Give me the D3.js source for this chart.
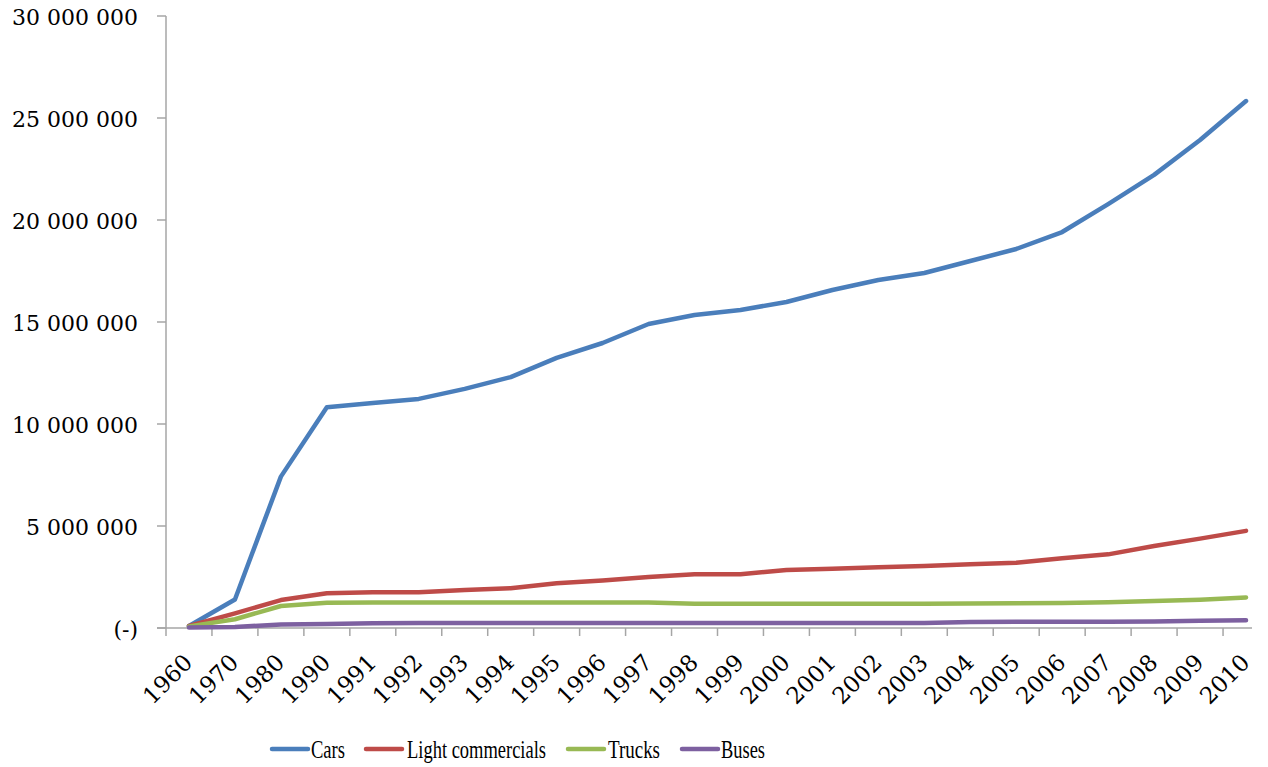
<!DOCTYPE html>
<html>
<head>
<meta charset="utf-8">
<script src="https://cdn.jsdelivr.net/npm/d3@7"></script>
<style>
  html, body { margin: 0; padding: 0; background: #fff; }
  svg text { font-family: "DejaVu Serif", "Liberation Serif", serif; fill: #000; }
  svg text.legend-label { font-family: "Liberation Serif", "DejaVu Serif", serif; }
</style>
</head>
<body>
<svg id="chart" width="1268" height="767"></svg>
<script>
// Vehicle fleet by type
const years = ["1960","1970","1980","1990","1991","1992","1993","1994","1995","1996","1997","1998",
               "1999","2000","2001","2002","2003","2004","2005","2006","2007","2008","2009","2010"];

const cars = [100000, 1400000, 7420000, 10820000, 11030000, 11230000, 11720000, 12300000, 13240000,
              13970000, 14900000, 15340000, 15590000, 15980000, 16570000, 17060000, 17400000,
              17990000, 18580000, 19410000, 20780000, 22210000, 23920000, 25830000];
const lightCommercials = [100000, 720000, 1370000, 1700000, 1750000, 1750000, 1860000, 1950000, 2190000,
              2330000, 2500000, 2640000, 2640000, 2840000, 2910000, 2980000, 3040000,
              3120000, 3200000, 3420000, 3610000, 4020000, 4380000, 4760000];
const trucks = [80000, 430000, 1080000, 1240000, 1250000, 1250000, 1250000, 1250000, 1250000,
              1250000, 1250000, 1190000, 1190000, 1190000, 1190000, 1190000, 1190000,
              1200000, 1210000, 1230000, 1260000, 1320000, 1390000, 1500000];
const buses = [30000, 50000, 170000, 190000, 230000, 240000, 240000, 240000, 240000,
              240000, 240000, 240000, 240000, 240000, 240000, 240000, 245000,
              300000, 310000, 310000, 310000, 320000, 350000, 380000];

const seriesNames = ["Cars", "Light commercials", "Trucks", "Buses"];
const seriesColors = ["#4A7EBB", "#BE4B48", "#98B954", "#7D60A0"];
const yTicks = [0, 5000000, 10000000, 15000000, 20000000, 25000000, 30000000];
const yTickLabels = ["(-)", "5 000 000", "10 000 000", "15 000 000", "20 000 000", "25 000 000", "30 000 000"];

const series = [cars, lightCommercials, trucks, buses].map((vals, i) => ({
  name: seriesNames[i], color: seriesColors[i], values: vals
}));

const svg = d3.select("#chart");
const axisColor = "#A6A6A6";

const x = d3.scaleBand().domain(years).range([166, 1269]).paddingInner(0).paddingOuter(0);
const y = d3.scaleLinear().domain([0, 30000000]).range([628, 16]);

// Y axis: line, ticks and labels
const yAxis = svg.append("g");
yAxis.append("line")
  .attr("x1", 166).attr("x2", 166)
  .attr("y1", y(30000000)).attr("y2", y(0))
  .attr("stroke", axisColor).attr("stroke-width", 1.5);
yAxis.selectAll("line.tick").data(yTicks).join("line")
  .attr("class", "tick")
  .attr("x1", 157).attr("x2", 166)
  .attr("y1", d => y(d)).attr("y2", d => y(d))
  .attr("stroke", axisColor).attr("stroke-width", 1.5);
yAxis.selectAll("text").data(yTicks).join("text")
  .attr("x", 138)
  .attr("y", d => y(d) + 9)
  .attr("text-anchor", "end")
  .attr("font-size", 22)
  .text((d, i) => yTickLabels[i]);

// X axis: line, ticks between categories, rotated labels
const xAxis = svg.append("g");
xAxis.append("line")
  .attr("x1", 157).attr("x2", 1252)
  .attr("y1", y(0)).attr("y2", y(0))
  .attr("stroke", axisColor).attr("stroke-width", 1.5);
const boundaries = years.map(d => x(d));
xAxis.selectAll("line.tick").data(boundaries).join("line")
  .attr("class", "tick")
  .attr("x1", d => d).attr("x2", d => d)
  .attr("y1", y(0)).attr("y2", y(0) + 8)
  .attr("stroke", axisColor).attr("stroke-width", 1.5);
xAxis.selectAll("text").data(years).join("text")
  .attr("text-anchor", "end")
  .attr("font-size", 23)
  .attr("transform", d => `translate(${x(d) + x.bandwidth() / 2 + 5},${664}) rotate(-45)`)
  .text(d => d);

// Series lines
const line = d3.line()
  .x((d, i) => x(years[i]) + x.bandwidth() / 2)
  .y(d => y(d));

svg.append("g").selectAll("path").data(series).join("path")
  .attr("d", d => line(d.values))
  .attr("fill", "none")
  .attr("stroke", d => d.color)
  .attr("stroke-width", 4.5)
  .attr("stroke-linejoin", "round")
  .attr("stroke-linecap", "round");

// Legend
const legendItems = [
  { lx: 272, tx: 311, tw: 34 },
  { lx: 366, tx: 407, tw: 139 },
  { lx: 568, tx: 608, tw: 52 },
  { lx: 682, tx: 721, tw: 44 }
];
const legend = svg.append("g");
series.forEach((s, i) => {
  const it = legendItems[i];
  legend.append("line")
    .attr("x1", it.lx).attr("x2", it.lx + 36)
    .attr("y1", 749).attr("y2", 749)
    .attr("stroke", s.color).attr("stroke-width", 4.5)
    .attr("stroke-linecap", "round");
  legend.append("text")
    .attr("class", "legend-label")
    .attr("x", it.tx).attr("y", 758)
    .attr("font-size", 25)
    .attr("textLength", it.tw)
    .attr("lengthAdjust", "spacingAndGlyphs")
    .text(s.name);
});
</script>
</body>
</html>
